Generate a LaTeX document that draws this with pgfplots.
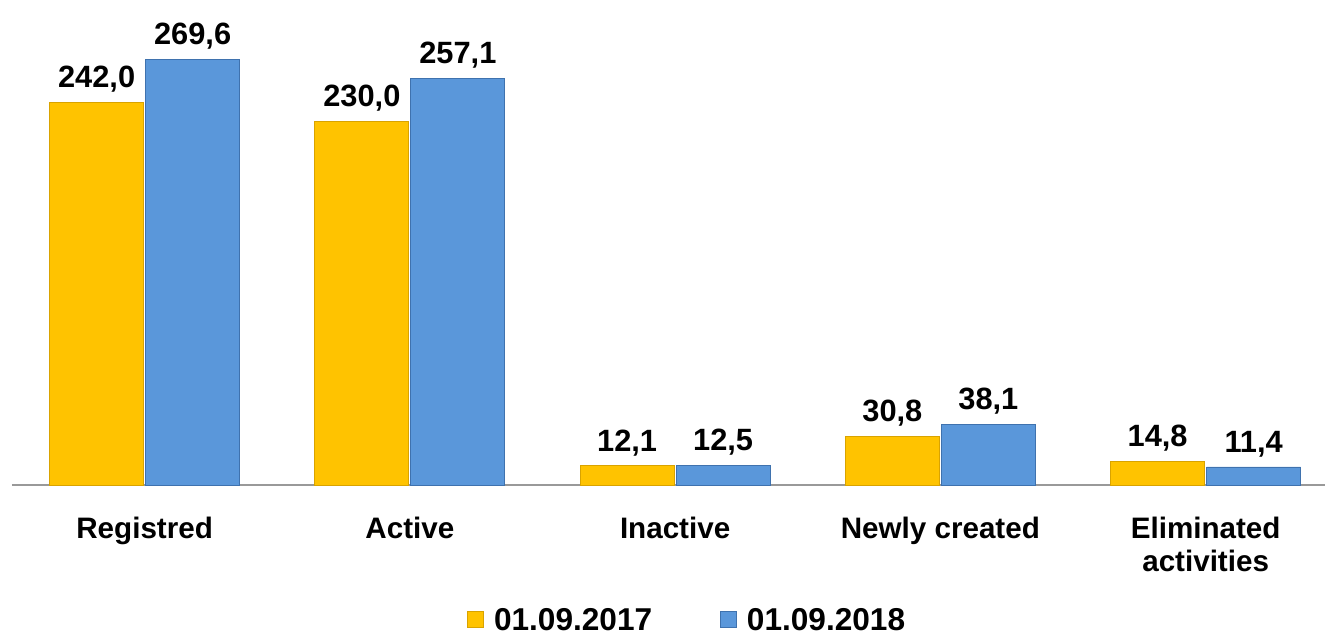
\documentclass[border=0pt]{standalone}
\usepackage{pgfplots}
\pgfplotsset{compat=1.18}
\usepackage{fontspec}
\setmainfont{Liberation Sans}
\definecolor{cyel}{HTML}{FFC300}
\definecolor{cyeld}{HTML}{D9A300}
\definecolor{cblu}{HTML}{5A97DA}
\definecolor{cblud}{HTML}{3F72AE}
\begin{document}
\begin{tikzpicture}
\begin{axis}[
  scale only axis,
  width=656.5pt, height=242.5pt,
  xmin=-0.5, xmax=4.45,
  ymin=0, ymax=307,
  axis y line=none,
  axis x line*=bottom,
  axis line style={-, draw=gray!80, line width=0.8pt},
  xtick={0,1,2,3,4},
  xticklabels={Registred,Active,Inactive,Newly created,{Eliminated\\activities}},
  xtick style={draw=none},
  xticklabel style={font=\fontsize{14.8}{16.5}\selectfont\bfseries, align=center, yshift=-8pt},
  ybar, bar width=47pt,
  nodes near coords,
  point meta=explicit symbolic,
  every node near coord/.append style={font=\fontsize{15.4}{17}\selectfont\bfseries, yshift=1.5pt, black},
  legend columns=2,
  legend style={draw=none, at={(0.515,-0.28)}, anchor=center,
    font=\fontsize{15.8}{17}\selectfont\bfseries,
    /tikz/every odd column/.append style={column sep=3pt},
    /tikz/every even column/.append style={column sep=32pt}},
  legend image code/.code={\fill[#1] (0pt,-3.5pt) rectangle (8pt,4.5pt);},
  clip=false,
]
\addplot[fill=cyel, draw=cyeld, bar shift=-24pt] table[meta=lab] {
x y lab
0 242.0 242,0
1 230.0 230,0
2 12.1 12,1
3 30.8 30,8
4 14.8 14,8
};
\addlegendentry{01.09.2017}
\addplot[fill=cblu, draw=cblud, bar shift=24pt] table[meta=lab] {
x y lab
0 269.6 269,6
1 257.1 257,1
2 12.5 12,5
3 38.1 38,1
4 11.4 11,4
};
\addlegendentry{01.09.2018}
\coordinate (tl) at (rel axis cs:0,1);
\coordinate (br) at (rel axis cs:1,0);
\end{axis}
\pgfresetboundingbox
\path[use as bounding box] ([xshift=-6pt]tl) rectangle ([yshift=-75.5pt]br);
\end{tikzpicture}
\end{document}
